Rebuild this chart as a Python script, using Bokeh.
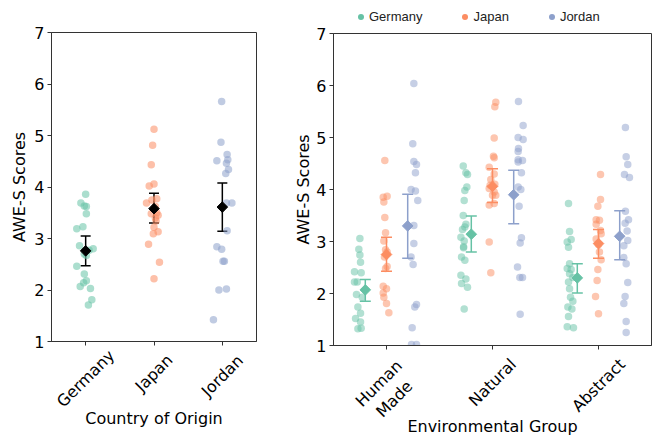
import math
from bokeh.plotting import figure
from bokeh.layouts import row, column
from bokeh.models import (ColumnDataSource, Whisker, TeeHead, FixedTicker, Range1d,
                          Legend, LegendItem, Label)
from bokeh.embed import file_html
from bokeh.resources import INLINE

countries = ["Germany", "Japan", "Jordan"]
colors = ["#66c2a5", "#fc8d62", "#8da0cb"]
groups = ["Human\nMade", "Natural", "Abstract"]
y_ticks = [1, 2, 3, 4, 5, 6, 7]

# ---- Left panel: overall AWE-S score per participant, with jitter
germany_all = [3.86, 3.69, 3.63, 3.62, 3.48, 3.23, 3.19, 2.86, 2.80, 2.77, 2.70, 2.67,
               2.46, 2.31, 2.18, 2.14, 2.07, 2.03, 1.81, 1.71]
germany_all_jit = [0.0, -0.07, -0.02, 0.01, 0.01, -0.04, -0.13, -0.09, 0.11, 0.05, -0.02, 0.01,
                   -0.13, -0.02, 0.01, -0.03, -0.08, 0.07, 0.09, 0.04]
japan_all = [5.12, 4.81, 4.43, 4.06, 4.02, 3.77, 3.75, 3.69, 3.62, 3.58, 3.50, 3.48, 3.45,
             3.40, 3.34, 3.22, 3.13, 3.09, 2.89, 2.54, 2.22]
japan_all_jit = [0.0, -0.02, -0.04, 0.0, -0.07, 0.04, -0.03, -0.11, 0.02, 0.0, 0.04, -0.04, 0.06,
                 0.02, 0.03, 0.0, 0.06, -0.01, -0.08, 0.08, 0.0]
jordan_all = [5.66, 4.87, 4.63, 4.53, 4.51, 4.46, 4.34, 4.26, 3.69, 3.69, 3.15, 2.84, 2.79,
              2.56, 2.56, 2.02, 2.00, 1.42]
jordan_all_jit = [-0.01, -0.02, 0.07, 0.08, -0.08, 0.06, 0.09, 0.05, 0.14, 0.06, 0.07, -0.08, -0.01,
                  0.01, 0.03, 0.06, -0.05, -0.13]
country_mean = [2.76, 3.58, 3.61]
country_ci_low = [2.47, 3.30, 3.14]
country_ci_high = [3.05, 3.88, 4.08]

# ---- Right panel: scores per environmental group and country
hm_germany = [3.06, 2.85, 2.74, 2.60, 2.42, 2.40, 2.22, 2.22, 1.98, 1.93, 1.74, 1.62, 1.52, 1.45, 1.32, 1.33]
hm_germany_jit = [0.016, 0.006, 0.016, 0.022, -0.035, 0.028, -0.035, -0.009, -0.016, 0.038, -0.003,
                  0.022, -0.025, 0.022, -0.003, 0.028]
hm_japan = [4.56, 3.85, 3.87, 3.76, 3.46, 3.17, 3.01, 2.84, 2.80, 2.70, 2.52, 2.48, 2.14, 2.09,
            2.01, 1.93, 1.81, 1.63]
hm_japan_jit = [-0.016, -0.031, 0.006, -0.025, -0.016, -0.009, -0.025, -0.009, 0.006, -0.019, 0.006,
                -0.009, -0.031, 0.0, -0.031, -0.025, 0.0, 0.022]
hm_jordan = [6.04, 4.88, 4.54, 4.48, 4.32, 4.00, 3.97, 3.79, 3.31, 2.96, 2.70, 2.56, 1.79, 1.74,
             1.34, 1.02, 1.02]
hm_jordan_jit = [-0.009, -0.019, -0.009, 0.016, 0.006, -0.035, 0.006, 0.028, -0.009, -0.009, -0.035,
                 -0.016, 0.016, 0.0, -0.025, -0.031, 0.016]

nat_germany = [4.45, 4.32, 4.29, 4.05, 3.98, 3.79, 3.50, 3.33, 3.28, 3.23, 3.08, 3.01, 2.90, 2.88,
               2.70, 2.64, 2.35, 2.28, 2.19, 2.12, 1.70]
nat_germany_jit = [-0.009, 0.016, 0.031, 0.025, 0.006, 0.0, -0.009, 0.016, 0.006, -0.016, -0.031, 0.0,
                   -0.006, -0.006, -0.025, 0.006, -0.031, 0.016, -0.025, 0.031, 0.0]
nat_japan = [5.68, 5.59, 4.99, 4.64, 4.61, 4.43, 4.30, 4.19, 4.10, 4.08, 4.02, 3.95, 3.89, 3.89,
             3.73, 3.70, 2.99, 2.40]
nat_japan_jit = [0.031, 0.022, 0.016, 0.009, 0.016, -0.031, 0.016, -0.016, 0.022, -0.022, -0.031, 0.016,
                 0.0, 0.031, 0.016, -0.031, -0.031, -0.016]
nat_jordan = [5.69, 5.23, 5.00, 4.96, 4.79, 4.73, 4.57, 4.56, 4.53, 4.32, 4.05, 4.00, 3.68, 3.07,
              2.97, 2.51, 2.31, 2.31, 1.60]
nat_jordan_jit = [-0.022, 0.022, -0.025, 0.022, -0.022, -0.025, -0.025, 0.016, -0.025, 0.006, -0.025, 0.0,
                  -0.016, 0.006, -0.006, -0.031, -0.009, 0.016, -0.006]

abs_germany = [3.73, 3.19, 3.04, 2.99, 2.89, 2.57, 2.48, 2.46, 2.38, 2.31, 2.22, 2.09, 1.93, 1.85,
               1.74, 1.70, 1.56, 1.36, 1.34]
abs_germany_jit = [-0.016, -0.006, 0.009, -0.028, -0.016, -0.006, -0.028, 0.009, -0.006, 0.025, -0.016,
                   -0.006, 0.003, 0.025, -0.022, 0.016, -0.016, -0.028, 0.031]
abs_japan = [4.29, 3.81, 3.68, 3.42, 3.41, 3.33, 3.21, 3.15, 3.05, 2.94, 2.80, 2.65, 2.46, 2.25,
             1.94, 1.61]
abs_japan_jit = [0.019, 0.019, -0.006, -0.022, 0.009, -0.022, 0.019, 0.025, -0.022, 0.0, 0.009, 0.025,
                 -0.006, -0.013, -0.028, 0.0]
abs_jordan = [5.19, 4.63, 4.48, 4.29, 4.23, 3.58, 3.42, 3.35, 3.20, 3.02, 2.92, 2.69, 2.57, 2.21,
              1.94, 1.81, 1.46, 1.25]
abs_jordan_jit = [-0.013, -0.006, 0.009, -0.022, 0.025, -0.013, 0.016, -0.016, 0.003, 0.009, -0.028,
                  -0.028, -0.006, 0.009, -0.016, -0.028, -0.006, -0.006]

# means and 95% CI by country, one entry per environmental group
germany_mean = [2.07, 3.14, 2.30]
germany_lo = [1.85, 2.80, 2.01]
germany_hi = [2.27, 3.49, 2.57]
japan_mean = [2.75, 4.06, 2.96]
japan_lo = [2.43, 3.75, 2.68]
japan_hi = [3.08, 4.40, 3.23]
jordan_mean = [3.30, 3.90, 3.10]
jordan_lo = [2.68, 3.34, 2.65]
jordan_hi = [3.91, 4.37, 3.59]

FONT = "DejaVu Sans"
FS = 16
DARK = "#333333"


def style(p, n_cats, ylab_standoff):
    p.xgrid.visible = False
    p.ygrid.visible = False
    p.outline_line_color = DARK
    p.outline_line_width = 1
    for ax in (p.xaxis[0], p.yaxis[0]):
        ax.axis_line_color = DARK
        ax.major_tick_line_color = DARK
        ax.major_tick_out = 4
        ax.major_tick_in = 0
        ax.minor_tick_line_color = None
        ax.major_label_text_font = FONT
        ax.major_label_text_font_size = f"{FS}px"
        ax.major_label_text_color = "black"
        ax.axis_label_text_font = FONT
        ax.axis_label_text_font_size = f"{FS}px"
        ax.axis_label_text_font_style = "normal"
        ax.axis_label_text_color = "black"
    p.yaxis[0].ticker = FixedTicker(ticks=y_ticks)
    p.yaxis[0].major_label_standoff = 3
    p.yaxis[0].axis_label = "AWE-S Scores"
    p.yaxis[0].axis_label_standoff = ylab_standoff
    p.xaxis[0].ticker = FixedTicker(ticks=list(range(n_cats)))
    p.xaxis[0].major_label_overrides = {i: "" for i in range(n_cats)}
    p.xaxis[0].major_label_text_font_size = "1px"
    p.xaxis[0].major_label_standoff = 0


def label_strip(main, width, height, bl, br, top_off, xlabels, xtitle, title_off):
    """Figure below a panel holding the rotated category labels and the x title.
    y coordinates are pixels below the panel's frame bottom (negative downwards)."""
    f = figure(width=width, height=height, x_range=main.x_range,
               y_range=Range1d(-(top_off + height), -top_off),
               x_axis_location=None, y_axis_location=None, output_backend="svg",
               toolbar_location=None, min_border_left=bl, min_border_right=br,
               min_border_top=0, min_border_bottom=0)
    f.outline_line_color = None
    f.grid.visible = False
    xs, ys = [], []
    for i, lab in enumerate(xlabels):
        lines = lab.split("\n")
        w = 0.48 * FS * max(len(s) for s in lines)
        h = 14 + 40 * (len(lines) - 1)
        xs.append(i)
        ys.append(-(13 + (w + h) / (2 * math.sqrt(2))))
    f.text(x=xs, y=ys, text=list(xlabels), angle=math.pi / 4, text_align="center",
           text_baseline="middle", text_font={"value": FONT}, text_font_size=f"{FS}px",
           text_color="black", text_line_height=1.15)
    f.add_layout(Label(x=(len(xlabels) - 1) / 2, y=title_off, text=xtitle, text_align="center",
                       text_baseline="middle", text_font=FONT, text_font_size=f"{FS}px",
                       text_color="black"))
    return f


# ---------------- Left panel
p1 = figure(width=286, height=351, x_range=Range1d(-0.5, 2.5), y_range=Range1d(1, 7),
            output_backend="svg", toolbar_location=None, min_border_left=51, min_border_right=30,
            min_border_top=32, min_border_bottom=10)
style(p1, len(countries), 2)

left_sets = [(germany_all, germany_all_jit), (japan_all, japan_all_jit), (jordan_all, jordan_all_jit)]
for i, (vals, jit) in enumerate(left_sets):
    src = ColumnDataSource(dict(x=[i + j for j in jit], y=vals))
    p1.scatter("x", "y", source=src, size=7.5, fill_color=colors[i], fill_alpha=0.55, line_color=None)

msrc = ColumnDataSource(dict(x=[0, 1, 2], m=country_mean, lo=country_ci_low, hi=country_ci_high))
p1.add_layout(Whisker(base="x", lower="lo", upper="hi", source=msrc, line_color="black", line_width=1.5,
                      upper_head=TeeHead(size=10, line_color="black", line_width=1.5),
                      lower_head=TeeHead(size=10, line_color="black", line_width=1.5)))
p1.scatter("x", "m", source=msrc, marker="square", angle=math.pi / 4, size=7.5,
           fill_color="black", line_color="black")

p1_lab = label_strip(p1, 286, 85, 51, 30, 10, countries, "Country of Origin", -77)

# ---------------- Right panel
p2 = figure(width=367, height=329, x_range=Range1d(-0.5, 2.5), y_range=Range1d(1, 7),
            output_backend="svg", toolbar_location=None, min_border_left=47, min_border_right=2,
            min_border_top=7, min_border_bottom=10)
style(p2, len(groups), 0)

strip_dodge = [-0.267, 0.0, 0.267]
mean_dodge = [-0.2, 0.0, 0.2]
right_sets = [
    [(hm_germany, hm_germany_jit), (nat_germany, nat_germany_jit), (abs_germany, abs_germany_jit)],
    [(hm_japan, hm_japan_jit), (nat_japan, nat_japan_jit), (abs_japan, abs_japan_jit)],
    [(hm_jordan, hm_jordan_jit), (nat_jordan, nat_jordan_jit), (abs_jordan, abs_jordan_jit)],
]
for c, sets in enumerate(right_sets):
    xs, ys = [], []
    for g, (vals, jit) in enumerate(sets):
        xs += [g + strip_dodge[c] + j for j in jit]
        ys += vals
    src = ColumnDataSource(dict(x=xs, y=ys))
    p2.scatter("x", "y", source=src, size=7.5, fill_color=colors[c], fill_alpha=0.5, line_color=None)

stats = [(germany_mean, germany_lo, germany_hi), (japan_mean, japan_lo, japan_hi),
         (jordan_mean, jordan_lo, jordan_hi)]
for c, (m, lo, hi) in enumerate(stats):
    src = ColumnDataSource(dict(x=[g + mean_dodge[c] for g in range(3)], m=m, lo=lo, hi=hi))
    p2.add_layout(Whisker(base="x", lower="lo", upper="hi", source=src, line_color=colors[c], line_width=1.5,
                          upper_head=TeeHead(size=11, line_color=colors[c], line_width=1.5),
                          lower_head=TeeHead(size=11, line_color=colors[c], line_width=1.5)))
    p2.scatter("x", "m", source=src, marker="square", angle=math.pi / 4, size=7.5,
               fill_color=colors[c], line_color=colors[c])

p2_lab = label_strip(p2, 367, 81, 47, 2, 10, groups, "Environmental Group", -81)

# ---------------- Legend strip above the right panel
p_leg = figure(width=367, height=26, x_range=Range1d(0, 1), y_range=Range1d(0, 1),
               x_axis_location=None, y_axis_location=None, output_backend="svg",
               toolbar_location=None, min_border_left=47, min_border_right=2,
               min_border_top=0, min_border_bottom=0)
p_leg.outline_line_color = None
p_leg.grid.visible = False
items = []
for c, name in enumerate(countries):
    # a single marker outside the visible range: only its legend swatch is drawn
    r = p_leg.scatter(x=[-5], y=[-5], size=6, fill_color=colors[c], line_color=None)
    items.append(LegendItem(label=name, renderers=[r]))
leg = Legend(items=items, orientation="horizontal", location=(20, 2),
             label_text_font="Liberation Sans", label_text_font_size="13px", label_text_color="#222222",
             border_line_color=None, background_fill_alpha=0, glyph_width=15, glyph_height=15,
             label_standoff=1, spacing=35, padding=2, margin=0)
p_leg.add_layout(leg, "center")

layout = row(column(p1, p1_lab), column(p_leg, p2, p2_lab))
open("out.html", "w").write(file_html(layout, INLINE))
